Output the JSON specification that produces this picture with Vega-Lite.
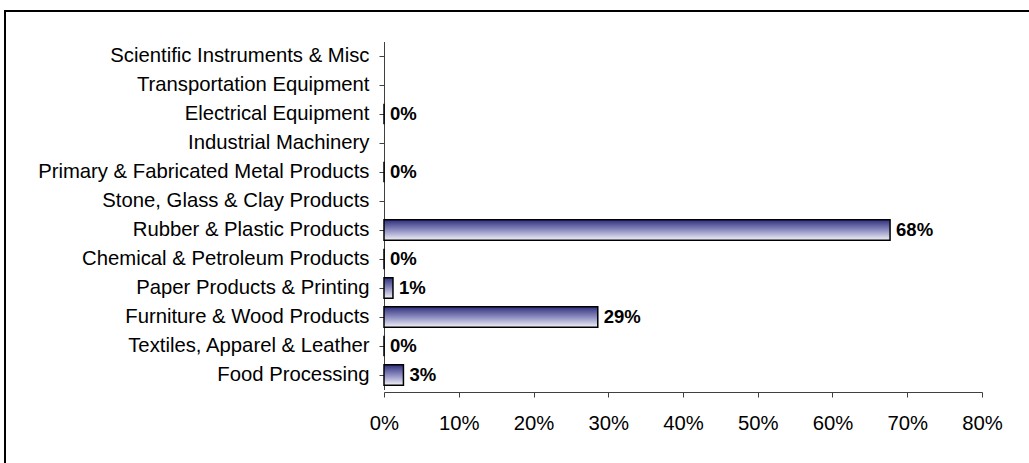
{
  "$schema": "https://vega.github.io/schema/vega-lite/v6.json",
  "autosize": "none",
  "padding": {"left": 5, "top": 11, "right": 0, "bottom": 0},
  "width": 1200,
  "height": 600,
  "background": "white",
  "config": {
    "view": {"stroke": "black", "strokeWidth": 2},
    "font": "Liberation Sans",
    "axis": {"grid": false, "labelFont": "Liberation Sans", "labelFontSize": 20.3, "labelColor": "black", "labelLimit": 0, "domainColor": "#404040", "tickColor": "#404040", "tickSize": 5, "title": null}
  },
  "data": {
    "values": [
      {"category": "Scientific Instruments & Misc", "value": null},
      {"category": "Transportation Equipment", "value": null},
      {"category": "Electrical Equipment", "value": 0},
      {"category": "Industrial Machinery", "value": null},
      {"category": "Primary & Fabricated Metal Products", "value": 0},
      {"category": "Stone, Glass & Clay Products", "value": null},
      {"category": "Rubber & Plastic Products", "value": 0.677},
      {"category": "Chemical & Petroleum Products", "value": 0},
      {"category": "Paper Products & Printing", "value": 0.012},
      {"category": "Furniture & Wood Products", "value": 0.286},
      {"category": "Textiles, Apparel & Leather", "value": 0},
      {"category": "Food Processing", "value": 0.026}
    ]
  },
  "encoding": {
    "y": {
      "field": "category",
      "type": "nominal",
      "sort": null,
      "scale": {
        "domain": ["Scientific Instruments & Misc", "Transportation Equipment", "Electrical Equipment", "Industrial Machinery", "Primary & Fabricated Metal Products", "Stone, Glass & Clay Products", "Rubber & Plastic Products", "Chemical & Petroleum Products", "Paper Products & Printing", "Furniture & Wood Products", "Textiles, Apparel & Leather", "Food Processing"],
        "range": [30.5, 378.5],
        "paddingInner": 0.3,
        "paddingOuter": 0.15
      },
      "axis": {"orient": "left", "offset": -379, "labelPadding": 10}
    },
    "x": {
      "field": "value",
      "type": "quantitative",
      "scale": {"domain": [0, 0.8], "range": [379, 977], "nice": false, "zero": true},
      "axis": {"orient": "bottom", "offset": -219, "values": [0, 0.1, 0.2, 0.3, 0.4, 0.5, 0.6, 0.7, 0.8], "format": ".0%", "labelPadding": 16, "labelFlush": false}
    }
  },
  "layer": [
    {
      "mark": {
        "type": "bar",
        "stroke": "black",
        "strokeWidth": 1.5,
        "color": {
          "gradient": "linear",
          "x1": 0, "y1": 0, "x2": 0, "y2": 1,
          "stops": [
            {"offset": 0, "color": "#30307e"},
            {"offset": 0.5, "color": "#8c8cc0"},
            {"offset": 1, "color": "#f0f0f8"}
          ]
        }
      }
    },
    {
      "mark": {"type": "text", "align": "left", "baseline": "middle", "dx": 6, "fontWeight": "bold", "fontSize": 18.5, "color": "black"},
      "encoding": {
        "text": {"field": "value", "type": "quantitative", "format": ".0%"}
      }
    }
  ]
}
